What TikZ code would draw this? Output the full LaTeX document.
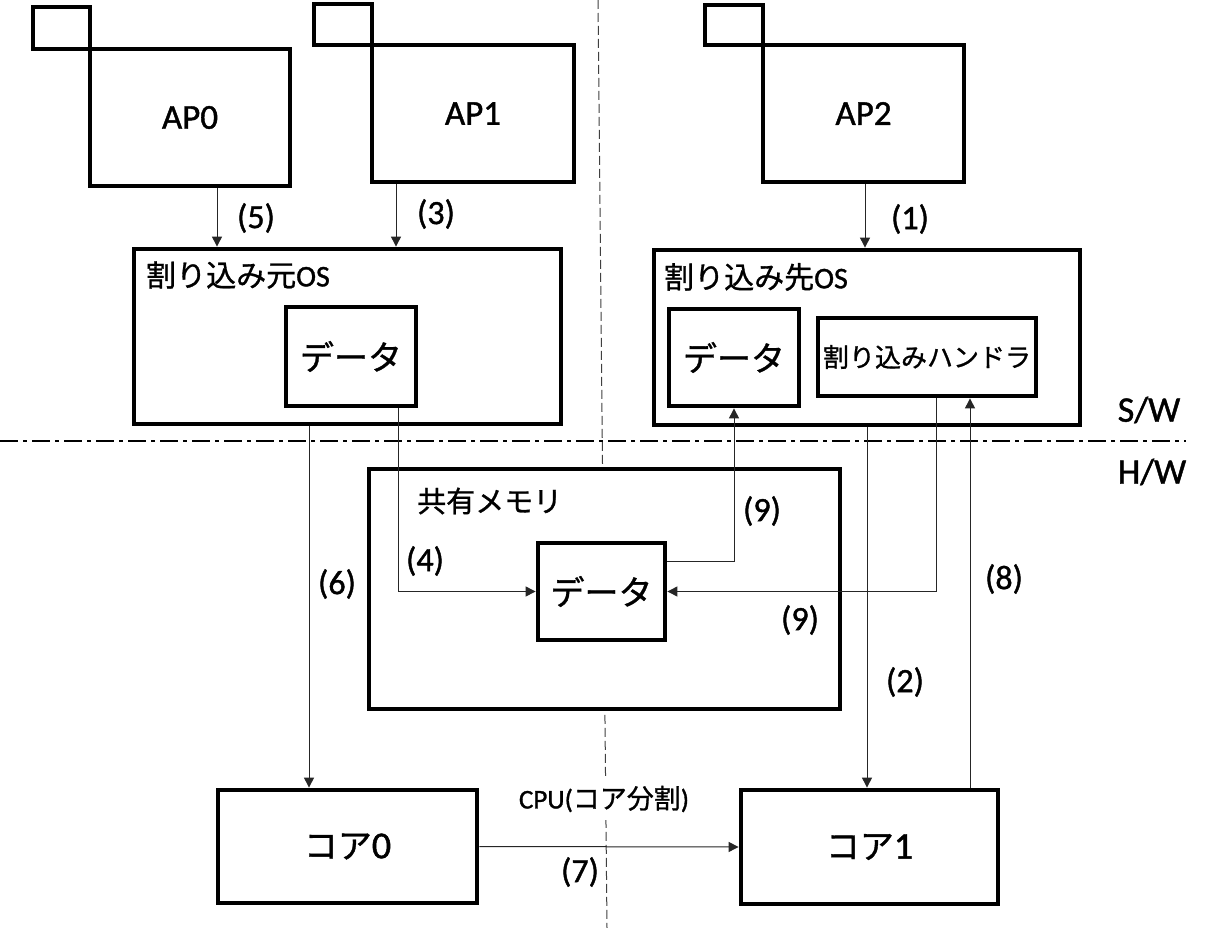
\documentclass[tikz,border=0pt]{standalone}
\usepackage{fontspec}
\setmainfont{Carlito}[FakeBold=1.2]
\newfontfamily\jp{Noto Sans CJK JP}[FakeBold=1.0]
\usetikzlibrary{arrows.meta}
\tikzset{
  box/.style={draw, line width=4.8pt, fill=white, inner sep=0pt},
  conn/.style={line width=1pt, draw=black!85},
  arr/.style={conn, -{Triangle[length=10pt,width=10pt]}},
  lbl/.style={font=\fontsize{34}{40}\selectfont, inner sep=0pt},
  aplbl/.style={font=\fontsize{35}{42}\selectfont},
  biglbl/.style={font=\fontsize{34}{40}\selectfont\jp},
  oslbl/.style={font=\fontsize{30}{36}\selectfont, inner sep=0pt, anchor=west},
  swlbl/.style={font=\fontsize{36}{42}\selectfont, inner sep=0pt},
  divider/.style={line width=2.5pt, dash pattern=on 18pt off 5pt on 4pt off 5pt},
  splitter/.style={line width=1pt, draw=black!75, dash pattern=on 9pt off 4pt},
  sz/.style 2 args={minimum width=#1pt, minimum height=#2pt}
}
\begin{document}
\begin{tikzpicture}[x=1pt,y=-1pt]
\useasboundingbox (0,0) rectangle (1211,928);
\fill[white] (0,0) rectangle (1211,928);
% vertical splitter (behind boxes)
\coordinate (splitTop) at (598,0);
\coordinate (splitBot) at (607,928);
\draw[splitter] (splitTop) -- (splitBot);
% horizontal S/W - H/W divider
\coordinate (divL) at (0,441);
\coordinate (divR) at (1186,441);
\draw[divider] (divL) -- (divR);
\node[swlbl] (sw) at (1149,410) {S/W};
\node[swlbl] (hw) at (1152,472) {H/W};

% application boxes
\node[box, sz={57}{42}] (ap0tab) at (61.5,28) {};
\node[box, sz={200}{137}, aplbl] (ap0) at (190,117.5) {AP0};
\node[box, sz={58}{41}] (ap1tab) at (343,24.5) {};
\node[box, sz={202}{137}, aplbl] (ap1) at (473,113.5) {AP1};
\node[box, sz={58}{40}] (ap2tab) at (734,25) {};
\node[box, sz={201}{137}, aplbl] (ap2) at (863.5,113.5) {AP2};

% OS boxes
\node[box, sz={427}{175}] (osA) at (347.5,336.5) {};
\node[oslbl] (osAlbl) at (146,275) {{\jp 割り込み元}OS};
\node[box, sz={130}{99}, biglbl] (dataL) at (351,356.5) {データ};

\node[box, sz={426}{175}] (osB) at (867,337.5) {};
\node[oslbl] (osBlbl) at (664,277) {{\jp 割り込み先}OS};
\node[box, sz={130}{97}, biglbl] (dataR) at (734,357.5) {データ};
\node[box, sz={218}{78}, font=\fontsize{26}{30}\selectfont\jp] (handler) at (927,357) {割り込みハンドラ};

% shared memory
\node[box, sz={471}{240}] (shm) at (604.5,589) {};
\node[oslbl, font=\fontsize{29}{34}\selectfont\jp] (shmlbl) at (417,501) {共有メモリ};
\node[box, sz={127}{97}, biglbl] (dataS) at (601.5,591.5) {データ};

% cores
\node[box, sz={259}{113}, font=\fontsize{34}{40}\selectfont] (core0) at (347.5,846.5) {{\jp コア}\fontsize{38}{40}\selectfont 0};
\node[box, sz={257}{114}, font=\fontsize{34}{40}\selectfont] (core1) at (869.5,847) {{\jp コア}\fontsize{38}{40}\selectfont 1};
\node[fill=white, inner xsep=2pt, inner ysep=8pt, font=\fontsize{27}{32}\selectfont] (cpu) at (604,799) {CPU({\jp コア分割})};

% connectors
\draw[arr] (865,0 |- ap2.south) -- (865,0 |- osB.north);
\node[lbl] (l1) at (910,219) {(1)};
\draw[arr] (867,0 |- osB.south) -- (867,0 |- core1.north);
\node[lbl] (l2) at (905,682) {(2)};
\draw[arr] (396,0 |- ap1.south) -- (396,0 |- osA.north);
\node[lbl] (l3) at (436,214) {(3)};
\draw[arr] (398,0 |- dataL.south) |- (dataS.west);
\node[lbl] (l4) at (425,561) {(4)};
\draw[arr] (217,0 |- ap0.south) -- (217,0 |- osA.north);
\node[lbl] (l5) at (256,218) {(5)};
\draw[arr] (309,0 |- osA.south) -- (309,0 |- core0.north);
\node[lbl] (l6) at (337,584) {(6)};
\draw[arr] (core0.east) -- (core1.west);
\node[lbl] (l7) at (580,872) {(7)};
\draw[arr] (970,0 |- core1.north) -- (970,0 |- handler.south);
\node[lbl] (l8) at (1004,579) {(8)};
\draw[arr] (0,561 -| dataS.east) -| (734,0 |- dataR.south);
\node[lbl] (l9a) at (762,511) {(9)};
\draw[arr] (936,0 |- handler.south) |- (dataS.east);
\node[lbl] (l9b) at (800,620) {(9)};
\end{tikzpicture}
\end{document}
